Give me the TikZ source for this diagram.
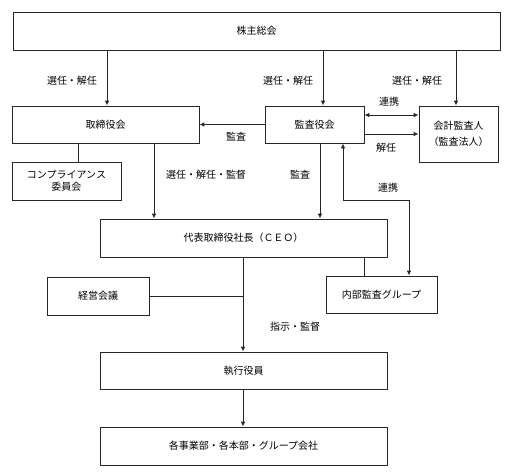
\documentclass[tikz,border=0pt]{standalone}
\usepackage{fontspec}
\setmainfont{Noto Sans CJK JP}
\usetikzlibrary{arrows.meta,calc}
\begin{document}
\begin{tikzpicture}[x=1pt,y=-1pt,
  box/.style={draw=black!85,line width=0.8pt,inner sep=0pt,align=center,font=\fontsize{10}{12.5}\selectfont},
  lbl/.style={inner sep=0pt,font=\fontsize{10}{12.5}\selectfont},
  conn/.style={draw=black!85,line width=0.9pt},
  arr/.style={conn,-{Latex[length=5pt,width=4.5pt]}},
  arrb/.style={conn,{Latex[length=5pt,width=4.5pt]}-{Latex[length=5pt,width=4.5pt]}}]
\useasboundingbox (0,0) rectangle (507,475);
\node[box,minimum width=487pt,minimum height=38pt] (gm) at (256.5,31) {株主総会};
\node[box,minimum width=187pt,minimum height=37pt] (bod) at (105.5,124.5) {取締役会};
\node[box,minimum width=99pt,minimum height=37pt] (kab) at (314.5,124.5) {監査役会};
\node[box,minimum width=79pt,minimum height=56pt,font=\fontsize{10}{16}\selectfont] (aud) at (458.5,134) {会計監査人\\（監査法人）};
\node[box,minimum width=109pt,minimum height=38pt] (comp) at (66.5,181) {コンプライアンス\\委員会};
\node[box,minimum width=287pt,minimum height=38pt] (ceo) at (243.5,238) {代表取締役社長（ＣＥＯ）};
\node[box,minimum width=102pt,minimum height=38pt] (keiei) at (98,296) {経営会議};
\node[box,minimum width=111pt,minimum height=37pt] (ia) at (381.5,294.5) {内部監査グループ};
\node[box,minimum width=287pt,minimum height=37pt] (exec) at (243.5,370.5) {執行役員};
\node[box,minimum width=287pt,minimum height=38pt] (div) at (243.5,446) {各事業部・各本部・グループ会社};
% helper coordinates
\coordinate (c1) at (107,0);
\coordinate (c2) at (323,0);
\coordinate (c3) at (456,0);
\coordinate (y1) at (0,115);
\coordinate (y2) at (0,134);
\coordinate (c4) at (154,0);
\coordinate (c5) at (78,0);
\coordinate (c6) at (320,0);
\coordinate (c7) at (343,0);
\coordinate (c8) at (409,0);
\coordinate (y3) at (0,200);
\coordinate (c9) at (364,0);
\coordinate (c10) at (243,0);
\draw[arr] (gm.south -| c1) -- (bod.north -| c1);
\draw[arr] (gm.south -| c2) -- (kab.north -| c2);
\draw[arr] (gm.south -| c3) -- (aud.north -| c3);
\draw[arr] (kab.west) -- (kab.west -| bod.east);
\draw[arrb] (kab.east |- y1) -- (aud.west |- y1);
\draw[arr] (kab.east |- y2) -- (aud.west |- y2);
\draw[conn] (bod.south -| c5) -- (comp.north -| c5);
\draw[arr] (bod.south -| c4) -- (ceo.north -| c4);
\draw[arr] (kab.south -| c6) -- (ceo.north -| c6);
\draw[arrb] (kab.south -| c7) -- (c7 |- y3) -- (c8 |- y3) -- (ia.north -| c8);
\draw[conn] (ceo.south -| c9) -- (ia.north -| c9);
\draw[arr] (ceo.south -| c10) -- (exec.north -| c10);
\draw[conn] (keiei.east) -- (keiei.east -| c10);
\draw[arr] (exec.south -| c10) -- (div.north -| c10);
% labels
\node[lbl] (l1) at (72,81) {選任・解任};
\node[lbl] (l2) at (288,81) {選任・解任};
\node[lbl] (l3) at (417,81) {選任・解任};
\node[lbl] (l4) at (389,102) {連携};
\node[lbl] (l5) at (386,148) {解任};
\node[lbl] (l6) at (236,137) {監査};
\node[lbl] (l7) at (206,175) {選任・解任・監督};
\node[lbl] (l8) at (300,175) {監査};
\node[lbl] (l9) at (388,188) {連携};
\node[lbl] (l10) at (295,327) {指示・監督};
\end{tikzpicture}
\end{document}
